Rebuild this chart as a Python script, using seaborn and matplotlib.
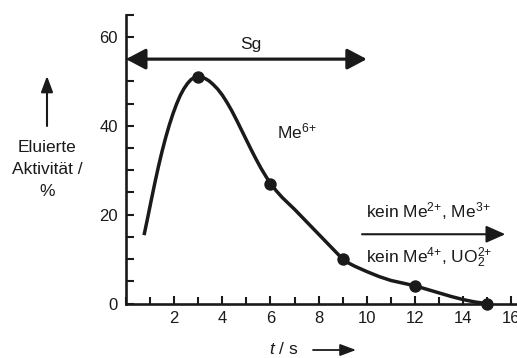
import matplotlib
matplotlib.use("Agg")
import matplotlib.pyplot as plt
from matplotlib.patches import FancyArrowPatch
from matplotlib.ticker import MultipleLocator
import pandas as pd
import seaborn as sns

# Elution curve of element 106 (Sg): time in s, eluted activity in %
curve_t = [0.75, 0.9, 1.05, 1.2, 1.35, 1.5, 1.65, 1.8, 1.95, 2.1, 2.25, 2.4,
           2.55, 2.7, 2.85, 3.0, 3.15, 3.3, 3.45, 3.6, 3.8, 4.0, 4.2, 4.4,
           4.6, 4.8, 5.0, 5.2, 5.4, 5.6, 5.8, 6.0, 6.25, 6.5, 6.75, 7.0, 7.25,
           7.5, 7.75, 8.0, 8.25, 8.5, 8.75, 9.0, 9.25, 9.5, 9.75, 10.0, 10.5,
           11.0, 11.5, 12.0, 12.5, 13.0, 13.5, 14.0, 14.5, 15.0]
curve_act = [15.4, 19.3, 23.3, 27.2, 30.9, 34.3, 37.4, 40.2, 42.7, 44.9, 46.8,
             48.3, 49.5, 50.4, 50.9, 51.0, 50.9, 50.6, 50.1, 49.4, 48.3, 46.9,
             45.2, 43.3, 41.2, 39.0, 36.8, 34.6, 32.5, 30.5, 28.7, 27.0, 25.3,
             23.8, 22.5, 21.2, 19.8, 18.4, 17.0, 15.6, 14.2, 12.8, 11.4, 10.0,
             9.1, 8.4, 7.8, 7.2, 6.1, 5.2, 4.6, 4.0, 3.2, 2.4, 1.6, 0.9, 0.35,
             0.0]

# Measured fractions
point_t = [3, 6, 9, 12, 15]
point_act = [51, 27, 10, 4, 0]

x_ticks = [2, 4, 6, 8, 10, 12, 14, 16]
y_ticks = [0, 20, 40, 60]

sns.set_theme(style="ticks")
plt.rcParams["font.family"] = ["Liberation Sans", "DejaVu Sans"]
plt.rcParams["mathtext.fontset"] = "custom"
plt.rcParams["mathtext.rm"] = "Liberation Sans"
plt.rcParams["mathtext.it"] = "Liberation Sans:italic"
plt.rcParams["mathtext.bf"] = "Liberation Sans:bold"

FS = 12.5
INK = "#1a1a1a"

fig = plt.figure(figsize=(5.17, 3.58), dpi=100)
ax = fig.add_axes([0.2437, 0.152, 0.757, 0.807])

curve = pd.DataFrame({"t": curve_t, "act": curve_act})
points = pd.DataFrame({"t": point_t, "act": point_act})

sns.lineplot(data=curve, x="t", y="act", ax=ax, color=INK, linewidth=2.5,
             sort=False, estimator=None, solid_joinstyle="round",
             solid_capstyle="butt")
sns.scatterplot(data=points, x="t", y="act", ax=ax, color=INK, s=80,
                edgecolor=INK, linewidth=0, zorder=5, clip_on=False)

ax.set_xlim(0, 16.25)
ax.set_ylim(0, 65)
ax.set_xticks(x_ticks)
ax.set_yticks(y_ticks)
ax.xaxis.set_minor_locator(MultipleLocator(1))
ax.yaxis.set_minor_locator(MultipleLocator(5))
ax.tick_params(which="both", direction="in", width=1.5, colors=INK,
               labelsize=12, labelcolor=INK)
ax.tick_params(axis="y", which="major", length=6, pad=6)
ax.tick_params(axis="y", which="minor", length=6)
ax.tick_params(axis="x", which="major", length=6, pad=5)
ax.tick_params(axis="x", which="minor", length=5)
sns.despine(ax=ax)
for side in ("left", "bottom"):
    ax.spines[side].set_linewidth(1.9)
    ax.spines[side].set_color(INK)
    ax.spines[side].set_clip_on(False)
ax.set_xlabel("")
ax.set_ylabel("")

# Sg range arrow
sg = FancyArrowPatch((0, 55), (10, 55), arrowstyle="<|-|>,head_length=0.85,head_width=0.45",
                     mutation_scale=14, color=INK, linewidth=2.3,
                     shrinkA=0, shrinkB=0, clip_on=False, zorder=6)
ax.add_patch(sg)
ax.text(5.2, 58.4, "Sg", ha="center", va="center", fontsize=FS, color=INK)

ax.text(6.25, 38.8, "Me$^{6{+}}$", ha="left", va="center", fontsize=FS, color=INK)

# Non-eluting species arrow
ne = FancyArrowPatch((9.8, 15.6), (15.75, 15.6), arrowstyle="-|>,head_length=0.9,head_width=0.4",
                     mutation_scale=13, color=INK, linewidth=1.5,
                     shrinkA=0, shrinkB=0, clip_on=False)
ax.add_patch(ne)
ax.text(9.95, 20.9, "kein Me$^{2{+}}$, Me$^{3{+}}$", ha="left", va="center",
        fontsize=FS, color=INK)
ax.text(9.95, 10.3, "kein Me$^{4{+}}$, UO$_2^{2{+}}$", ha="left", va="center",
        fontsize=FS, color=INK)

# Axis titles with direction arrows
fig.text(47 / 517, 1 - 148 / 358, "Eluierte", ha="center", va="center",
         fontsize=FS, color=INK)
fig.text(47 / 517, 1 - 170 / 358, "Aktivität /", ha="center", va="center",
         fontsize=FS, color=INK)
fig.text(47 / 517, 1 - 192 / 358, "%", ha="center", va="center",
         fontsize=FS, color=INK)
fig.patches.append(FancyArrowPatch((47 / 517, 1 - 126 / 358), (47 / 517, 1 - 76 / 358),
                                   transform=fig.transFigure,
                                   arrowstyle="-|>,head_length=0.8,head_width=0.3",
                                   mutation_scale=12, color=INK, linewidth=1.5,
                                   shrinkA=0, shrinkB=0))

fig.text(284 / 517, 1 - 349 / 358, "$t$ / s", ha="center", va="center",
         fontsize=FS, color=INK)
fig.patches.append(FancyArrowPatch((313 / 517, 1 - 350 / 358), (356 / 517, 1 - 350 / 358),
                                   transform=fig.transFigure,
                                   arrowstyle="-|>,head_length=0.8,head_width=0.3",
                                   mutation_scale=12, color=INK, linewidth=1.3,
                                   shrinkA=0, shrinkB=0))

fig.savefig("out.png", dpi=100)
